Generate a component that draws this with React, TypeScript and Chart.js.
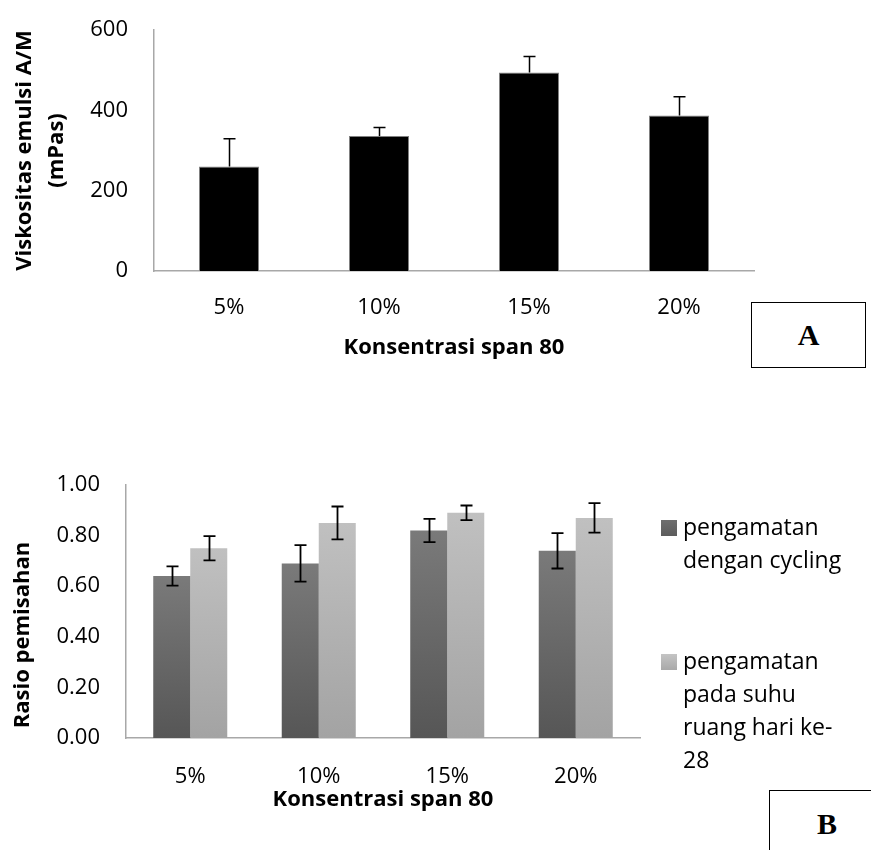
import React, { useEffect, useRef } from 'react';
import { Chart, registerables } from 'chart.js';

Chart.register(...registerables);

const FONT = '"Open Sans", "Noto Sans", sans-serif';

// ---- Chart A data ----
const CATEGORIES = ['5%', '10%', '15%', '20%'];
const VISKOSITAS = [260, 336, 494, 387];
const VISKOSITAS_ERR = [69, 21, 40, 47];
const A_Y_MAX = 600;
const A_Y_STEP = 200;
const A_Y_TITLE = ['Viskositas emulsi A/M', '(mPas)'];
const X_TITLE = 'Konsentrasi span 80';

// ---- Chart B data ----
const CYCLING = [0.64, 0.69, 0.82, 0.74];
const CYCLING_ERR = [0.038, 0.072, 0.046, 0.07];
const SUHU_RUANG = [0.75, 0.85, 0.89, 0.87];
const SUHU_RUANG_ERR = [0.048, 0.065, 0.029, 0.058];
const B_Y_MAX = 1.0;
const B_Y_STEP = 0.2;
const B_Y_TITLE = 'Rasio pemisahan';
const LEGEND_B = [
  ['pengamatan', 'dengan cycling'],
  ['pengamatan', 'pada suhu', 'ruang hari ke-', '28'],
];

const DARK_TOP = '#7a7a7a';
const DARK_BOTTOM = '#565656';
const LIGHT_TOP = '#c0c0c0';
const LIGHT_BOTTOM = '#a3a3a3';

const gradientFill = (top: string, bottom: string) => (ctx: any) => {
  const chart = ctx.chart;
  const ys = chart.scales && chart.scales.y;
  if (!ys || ctx.type !== 'data') return top;
  const v = ctx.parsed ? ctx.parsed.y : ctx.raw;
  const y0 = ys.getPixelForValue(v);
  const y1 = ys.getPixelForValue(0);
  if (!isFinite(y0) || !isFinite(y1) || y0 === y1) return top;
  const g = chart.ctx.createLinearGradient(0, y0, 0, y1);
  g.addColorStop(0, top);
  g.addColorStop(1, bottom);
  return g;
};

const errorBarPlugin = {
  id: 'errorBars',
  afterDatasetsDraw(chart: any, _args: any, opts: any) {
    const { ctx } = chart;
    const ys = chart.scales.y;
    ctx.save();
    ctx.strokeStyle = opts.color || '#000';
    ctx.lineWidth = opts.lineWidth || 1.5;
    const cap = opts.capWidth || 12;
    chart.data.datasets.forEach((ds: any, di: number) => {
      const meta = chart.getDatasetMeta(di);
      const errs: number[] = ds.errors || [];
      meta.data.forEach((bar: any, i: number) => {
        const v = ds.data[i];
        const e = errs[i];
        if (e == null) return;
        const x = Math.round(bar.x) + 0.5;
        const yTop = ys.getPixelForValue(v + e);
        const yBot = opts.both ? ys.getPixelForValue(v - e) : ys.getPixelForValue(v);
        ctx.beginPath();
        ctx.moveTo(x, yTop);
        ctx.lineTo(x, yBot);
        ctx.moveTo(x - cap / 2, yTop);
        ctx.lineTo(x + cap / 2, yTop);
        if (opts.both) {
          ctx.moveTo(x - cap / 2, yBot);
          ctx.lineTo(x + cap / 2, yBot);
        }
        ctx.stroke();
      });
    });
    ctx.restore();
  },
};

const legendBPlugin = {
  id: 'legendB',
  afterDraw(chart: any, _args: any, opts: any) {
    if (!opts || !opts.items) return;
    const { ctx } = chart;
    ctx.save();
    ctx.font = `${opts.fontSize}px ${FONT}`;
    ctx.textBaseline = 'middle';
    ctx.textAlign = 'left';
    ctx.fillStyle = '#000';
    opts.items.forEach((lines: string[], idx: number) => {
      const cy = opts.ys[idx];
      const sx = opts.x;
      const sz = opts.box;
      const g = ctx.createLinearGradient(0, cy - sz / 2, 0, cy + sz / 2);
      g.addColorStop(0, opts.colors[idx][0]);
      g.addColorStop(1, opts.colors[idx][1]);
      ctx.fillStyle = g;
      ctx.fillRect(sx, cy - sz / 2, sz, sz);
      ctx.fillStyle = '#000';
      lines.forEach((t: string, li: number) => {
        ctx.fillText(t, sx + sz + 6, cy + li * opts.lineHeight);
      });
    });
    ctx.restore();
  },
};

const rotatedTitlePlugin = {
  id: 'rotatedTitle',
  afterDraw(chart: any, _args: any, opts: any) {
    if (!opts || !opts.text) return;
    const { ctx } = chart;
    ctx.save();
    ctx.translate(opts.x, opts.y);
    ctx.rotate(-Math.PI / 2);
    ctx.font = `bold ${opts.fontSize}px ${FONT}`;
    ctx.textAlign = 'center';
    ctx.textBaseline = 'middle';
    ctx.fillStyle = '#000';
    ctx.fillText(opts.text, 0, 0);
    ctx.restore();
  },
};

export default function App() {
  const refA = useRef<HTMLCanvasElement | null>(null);
  const refB = useRef<HTMLCanvasElement | null>(null);

  useEffect(() => {
    const axisBorder = { display: true, color: '#a8a8a8', width: 1.5 };
    const tickFont = { family: FONT, size: 22 };
    const titleFont = { family: FONT, size: 22, weight: 'bold' as const };

    const chartA = new Chart(refA.current!, {
      type: 'bar',
      data: {
        labels: CATEGORIES,
        datasets: [
          {
            label: 'Viskositas',
            data: VISKOSITAS,
            errors: VISKOSITAS_ERR,
            backgroundColor: '#000000',
            borderColor: '#808080',
            borderWidth: 1,
            categoryPercentage: 0.4,
            barPercentage: 1,
          } as any,
        ],
      },
      options: {
        animation: false,
        responsive: false,
        maintainAspectRatio: false,
        layout: { padding: { top: 30, right: 117, left: 0, bottom: 0 } },
        plugins: {
          legend: { display: false },
          tooltip: { enabled: false },
          errorBars: { both: false, capWidth: 12, lineWidth: 1.5 },
        } as any,
        scales: {
          x: {
            grid: { display: false, drawTicks: false },
            border: axisBorder,
            ticks: { font: tickFont, color: '#000', padding: 24 },
            title: {
              display: true,
              text: X_TITLE,
              font: titleFont,
              color: '#000',
              padding: { top: 0, bottom: 39 },
            },
            afterFit: (s: any) => {
              s.height = 129;
            },
          },
          y: {
            min: 0,
            max: A_Y_MAX,
            grid: { display: false, drawTicks: false },
            border: axisBorder,
            ticks: { stepSize: A_Y_STEP, font: tickFont, color: '#000', padding: 26 },
            title: {
              display: true,
              text: A_Y_TITLE,
              font: { ...titleFont, lineHeight: 1.45 },
              color: '#000',
              padding: { top: 9, bottom: 0 },
            },
            afterFit: (s: any) => {
              s.width = 154;
              s.paddingTop = 0;
              s.paddingBottom = 0;
            },
          },
        },
      },
      plugins: [errorBarPlugin],
    });

    const chartB = new Chart(refB.current!, {
      type: 'bar',
      data: {
        labels: CATEGORIES,
        datasets: [
          {
            label: 'pengamatan dengan cycling',
            data: CYCLING,
            errors: CYCLING_ERR,
            backgroundColor: gradientFill(DARK_TOP, DARK_BOTTOM),
            borderWidth: 0,
            categoryPercentage: 0.576,
            barPercentage: 1,
          } as any,
          {
            label: 'pengamatan pada suhu ruang hari ke-28',
            data: SUHU_RUANG,
            errors: SUHU_RUANG_ERR,
            backgroundColor: gradientFill(LIGHT_TOP, LIGHT_BOTTOM),
            borderWidth: 0,
            categoryPercentage: 0.576,
            barPercentage: 1,
          } as any,
        ],
      },
      options: {
        animation: false,
        responsive: false,
        maintainAspectRatio: false,
        layout: { padding: { top: 45, right: 231, left: 0, bottom: 0 } },
        plugins: {
          legend: { display: false },
          tooltip: { enabled: false },
          errorBars: { both: true, capWidth: 12, lineWidth: 1.8 },
          legendB: {
            items: LEGEND_B,
            x: 661,
            ys: [88, 222],
            box: 16,
            fontSize: 23,
            lineHeight: 33,
            colors: [
              ['#6e6e6e', '#5c5c5c'],
              ['#c4c4c4', '#a9a9a9'],
            ],
          },
          rotatedTitle: { text: B_Y_TITLE, x: 23, y: 195, fontSize: 22 },
        } as any,
        scales: {
          x: {
            grid: { display: false, drawTicks: false },
            border: axisBorder,
            ticks: { font: tickFont, color: '#000', padding: 26 },
            title: {
              display: true,
              text: X_TITLE,
              font: titleFont,
              color: '#000',
              padding: { top: 0, bottom: 37 },
            },
            afterFit: (s: any) => {
              s.height = 112;
            },
          },
          y: {
            min: 0,
            max: B_Y_MAX,
            grid: { display: false, drawTicks: false },
            border: axisBorder,
            ticks: {
              stepSize: B_Y_STEP,
              font: tickFont,
              color: '#000',
              padding: 26,
              callback: (v: any) => Number(v).toFixed(2),
            },
            afterFit: (s: any) => {
              s.width = 126;
              s.paddingTop = 0;
              s.paddingBottom = 0;
            },
          },
        },
      },
      plugins: [errorBarPlugin, legendBPlugin, rotatedTitlePlugin],
    });

    return () => {
      chartA.destroy();
      chartB.destroy();
    };
  }, []);

  const boxStyle: React.CSSProperties = {
    position: 'absolute',
    width: 115,
    height: 66,
    border: '1.5px solid #000',
    background: '#fff',
    display: 'flex',
    alignItems: 'center',
    justifyContent: 'center',
    fontFamily: '"Liberation Serif", "Times New Roman", serif',
    fontWeight: 'bold',
    fontSize: 30,
    color: '#000',
    boxSizing: 'border-box',
  };

  return (
    <div
      style={{
        position: 'absolute',
        left: 0,
        top: 0,
        width: 871,
        height: 850,
        overflow: 'hidden',
        background: '#fff',
      }}
    >
      <canvas
        ref={refA}
        width={871}
        height={400}
        style={{ position: 'absolute', left: 0, top: 0, width: 871, height: 400 }}
      />
      <canvas
        ref={refB}
        width={871}
        height={410}
        style={{ position: 'absolute', left: 0, top: 440, width: 871, height: 410 }}
      />
      <div style={{ ...boxStyle, left: 751, top: 302 }}>A</div>
      <div style={{ ...boxStyle, left: 769, top: 790, width: 116, height: 67 }}>B</div>
    </div>
  );
}
